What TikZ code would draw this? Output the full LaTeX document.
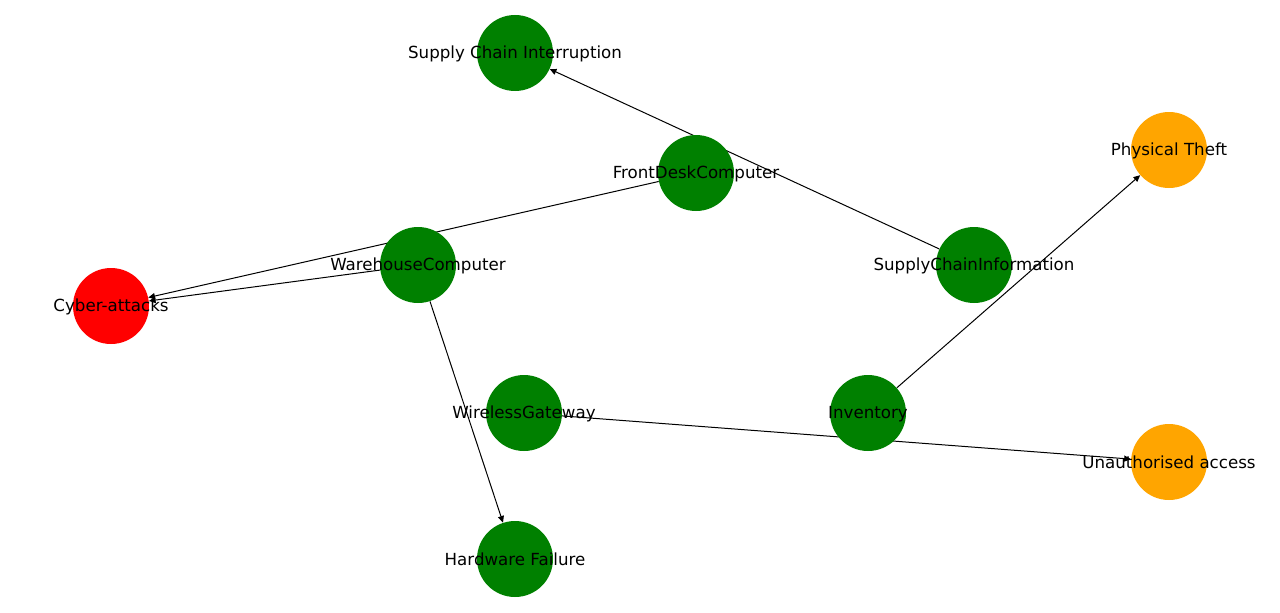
\documentclass[tikz,border=0pt]{standalone}
\usepackage{fontspec}
\setmainfont{DejaVu Sans}
\usetikzlibrary{arrows.meta}
\usetikzlibrary{backgrounds}

\begin{document}
\begin{tikzpicture}[x=0.75pt, y=0.75pt,
        asset/.style = {circle, minimum size = 57pt, inner sep = 0pt, fill = {rgb,255:red,0;green,128;blue,0}},
        threat/.style = {circle, minimum size = 57pt, inner sep = 0pt, fill = {rgb,255:red,255;green,165;blue,0}},
        attack/.style = {circle, minimum size = 57pt, inner sep = 0pt, fill = red},
        every label/.style = {font = \fontsize{12.5}{15}\selectfont, inner sep = 0pt, yshift = -0.5pt},
        link/.style = {-{Triangle[length = 5pt, width = 4.5pt]}, line width = 0.75pt}]
        \useasboundingbox (0, 0) rectangle (1280, 612);
        \node [asset, label = center:{Supply Chain Interruption}] (interruption) at (515, 559) {};
        \node [asset, label = center:{FrontDeskComputer}] (frontdesk) at (696, 439) {};
        \node [threat, label = center:{Physical Theft}] (theft) at (1169, 462) {};
        \node [asset, label = center:{WarehouseComputer}] (warehouse) at (418, 347) {};
        \node [asset, label = center:{SupplyChainInformation}] (supplyinfo) at (974, 347) {};
        \node [attack, label = center:{Cyber-attacks}] (cyber) at (111, 306) {};
        \node [asset, label = center:{WirelessGateway}] (gateway) at (524, 199) {};
        \node [asset, label = center:{Inventory}] (inventory) at (868, 199) {};
        \node [threat, label = center:{Unauthorised access}] (unauth) at (1169, 150) {};
        \node [asset, label = center:{Hardware Failure}] (hardware) at (515, 53) {};
        \begin{scope}[on background layer]
            \draw [link] (supplyinfo) -- (interruption);
            \draw [link] (frontdesk) -- (cyber);
            \draw [link] (warehouse) -- (cyber);
            \draw [link] (warehouse) -- (hardware);
            \draw [link] (inventory) -- (theft);
            \draw [link] (gateway) -- (unauth);
        \end{scope}
    \end{tikzpicture}
\end{document}
